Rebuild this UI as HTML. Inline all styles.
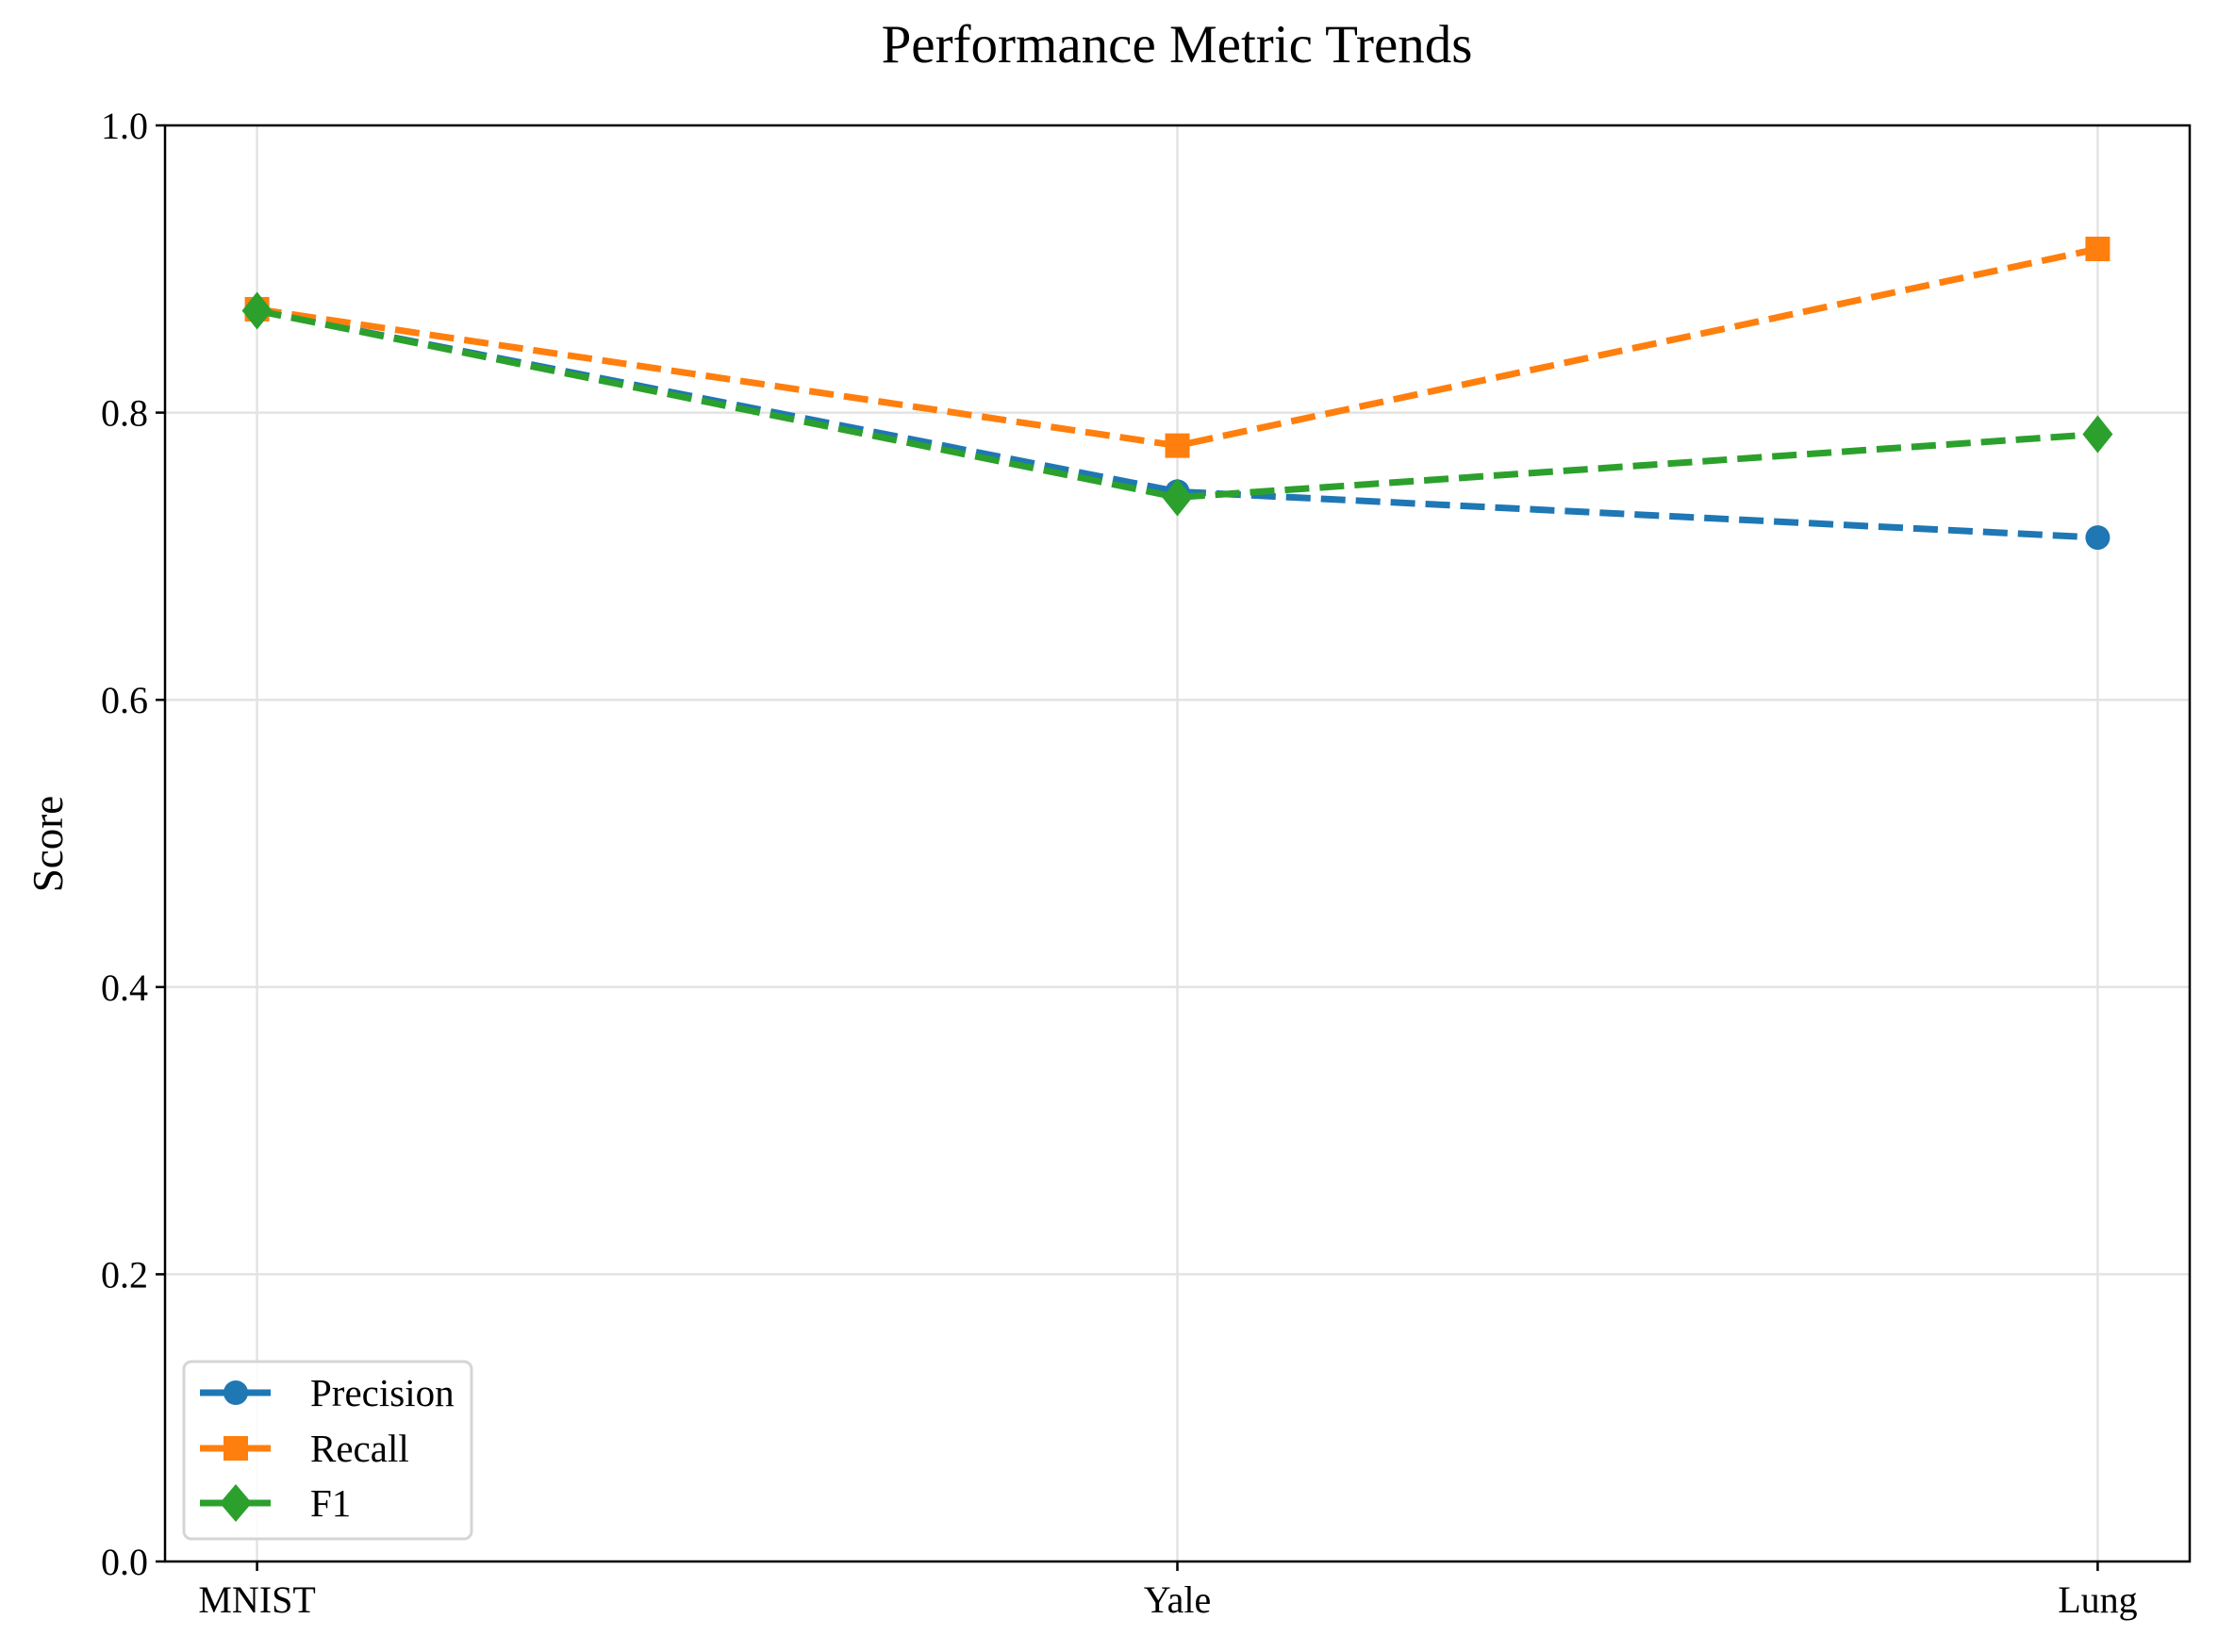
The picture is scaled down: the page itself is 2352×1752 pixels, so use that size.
<!DOCTYPE html>
<html><head><meta charset="utf-8"><style>
html,body{margin:0;padding:0;background:#fff;}
svg{display:block;font-family:"Liberation Serif",serif;}
</style></head><body>
<svg id="chart" width="2352" height="1752" viewBox="0 0 2352 1752" xmlns="http://www.w3.org/2000/svg">
<rect width="2352" height="1752" fill="#fff"/>
<text x="1248" y="66" font-size="57" text-anchor="middle">Performance Metric Trends</text>
<text transform="translate(66,895) rotate(-90)" font-size="45" text-anchor="middle">Score</text>
<g id="grid"></g><g id="series"></g>
<rect x="175" y="133" width="2147" height="1523" fill="none" stroke="#000" stroke-width="2.5"/>
<g id="ticks"></g>
<g>
<rect x="195" y="1444" width="305" height="188" rx="8" fill="#fff" fill-opacity="0.85" stroke="#d5d5d5" stroke-width="3"/>
<g>
<line x1="212" y1="1477" x2="287" y2="1477" stroke="#1f77b4" stroke-width="7"/><circle cx="250" cy="1477" r="13" fill="#1f77b4"/>
<text x="329" y="1491" font-size="41">Precision</text></g>
<g>
<line x1="212" y1="1536" x2="287" y2="1536" stroke="#ff7f0e" stroke-width="7"/><rect x="237" y="1523" width="26" height="26" fill="#ff7f0e"/>
<text x="329" y="1550" font-size="41">Recall</text></g>
<g>
<line x1="212" y1="1594" x2="287" y2="1594" stroke="#2ca02c" stroke-width="7"/><polygon points="250,1574 267,1594 250,1614 233,1594" fill="#2ca02c"/>
<text x="329" y="1608" font-size="41">F1</text></g>
</g>
</svg>
<script>
const categories = ["MNIST","Yale","Lung"];
const precision = [0.871, 0.745, 0.713];
const recall = [0.872, 0.777, 0.914];
const f1 = [0.871, 0.741, 0.785];
const yTicks = [0.0,0.2,0.4,0.6,0.8,1.0];
const yTickLabels = ["0.0","0.2","0.4","0.6","0.8","1.0"];

const NS="http://www.w3.org/2000/svg";
const L=175,R=2322,T=133,B=1656;
function xs(i){return L+(i+0.1)/2.2*(R-L);}
function ys(v){return B-v*(B-T);}
function mk(tag,attrs,parent){const e=document.createElementNS(NS,tag);for(const k in attrs)e.setAttribute(k,attrs[k]);parent.appendChild(e);return e;}
const grid=document.getElementById('grid'),ticks=document.getElementById('ticks'),series=document.getElementById('series');
yTicks.forEach((v,i)=>{
  const g=mk('line',{x1:L,x2:R,y1:ys(v),y2:ys(v),stroke:'#e3e3e3','stroke-width':2.5},grid);
  
  
  const t=mk('line',{x1:L-10,x2:L,y1:ys(v),y2:ys(v),stroke:'#000','stroke-width':2.5},ticks);
  
  
  const tx=mk('text',{x:L-18,y:ys(v)+14,'font-size':40,'text-anchor':'end'},ticks);
  tx.textContent=yTickLabels[i];
  
  
});
categories.forEach((c,i)=>{
  const g=mk('line',{x1:xs(i),x2:xs(i),y1:T,y2:B,stroke:'#e3e3e3','stroke-width':2.5},grid);
  
  
  const t=mk('line',{x1:xs(i),x2:xs(i),y1:B,y2:B+10,stroke:'#000','stroke-width':2.5},ticks);
  
  
  const tx=mk('text',{x:xs(i),y:B+54,'font-size':40,'text-anchor':'middle'},ticks);
  tx.textContent=c;
  
  
});
function drawSeries(vals,color,marker,name){
  const g=mk('g',{},series);
  
  
  const pts=vals.map((v,i)=>xs(i)+','+ys(v)).join(' ');
  const pl=mk('polyline',{points:pts,fill:'none',stroke:color,'stroke-width':7,'stroke-dasharray':'26 11'},g);
  
  
  vals.forEach((v,i)=>{
    const x=xs(i),y=ys(v);let m;
    if(marker==='circle')m=mk('circle',{cx:x,cy:y,r:13,fill:color},g);
    else if(marker==='square')m=mk('rect',{x:x-13,y:y-13,width:26,height:26,fill:color},g);
    else m=mk('polygon',{points:`${x},${y-20} ${x+16},${y} ${x},${y+20} ${x-16},${y}`,fill:color},g);
    
    
  });
}
drawSeries(precision,'#1f77b4','circle','precision');
drawSeries(recall,'#ff7f0e','square','recall');
drawSeries(f1,'#2ca02c','diamond','f1');
</script>
</body></html>
